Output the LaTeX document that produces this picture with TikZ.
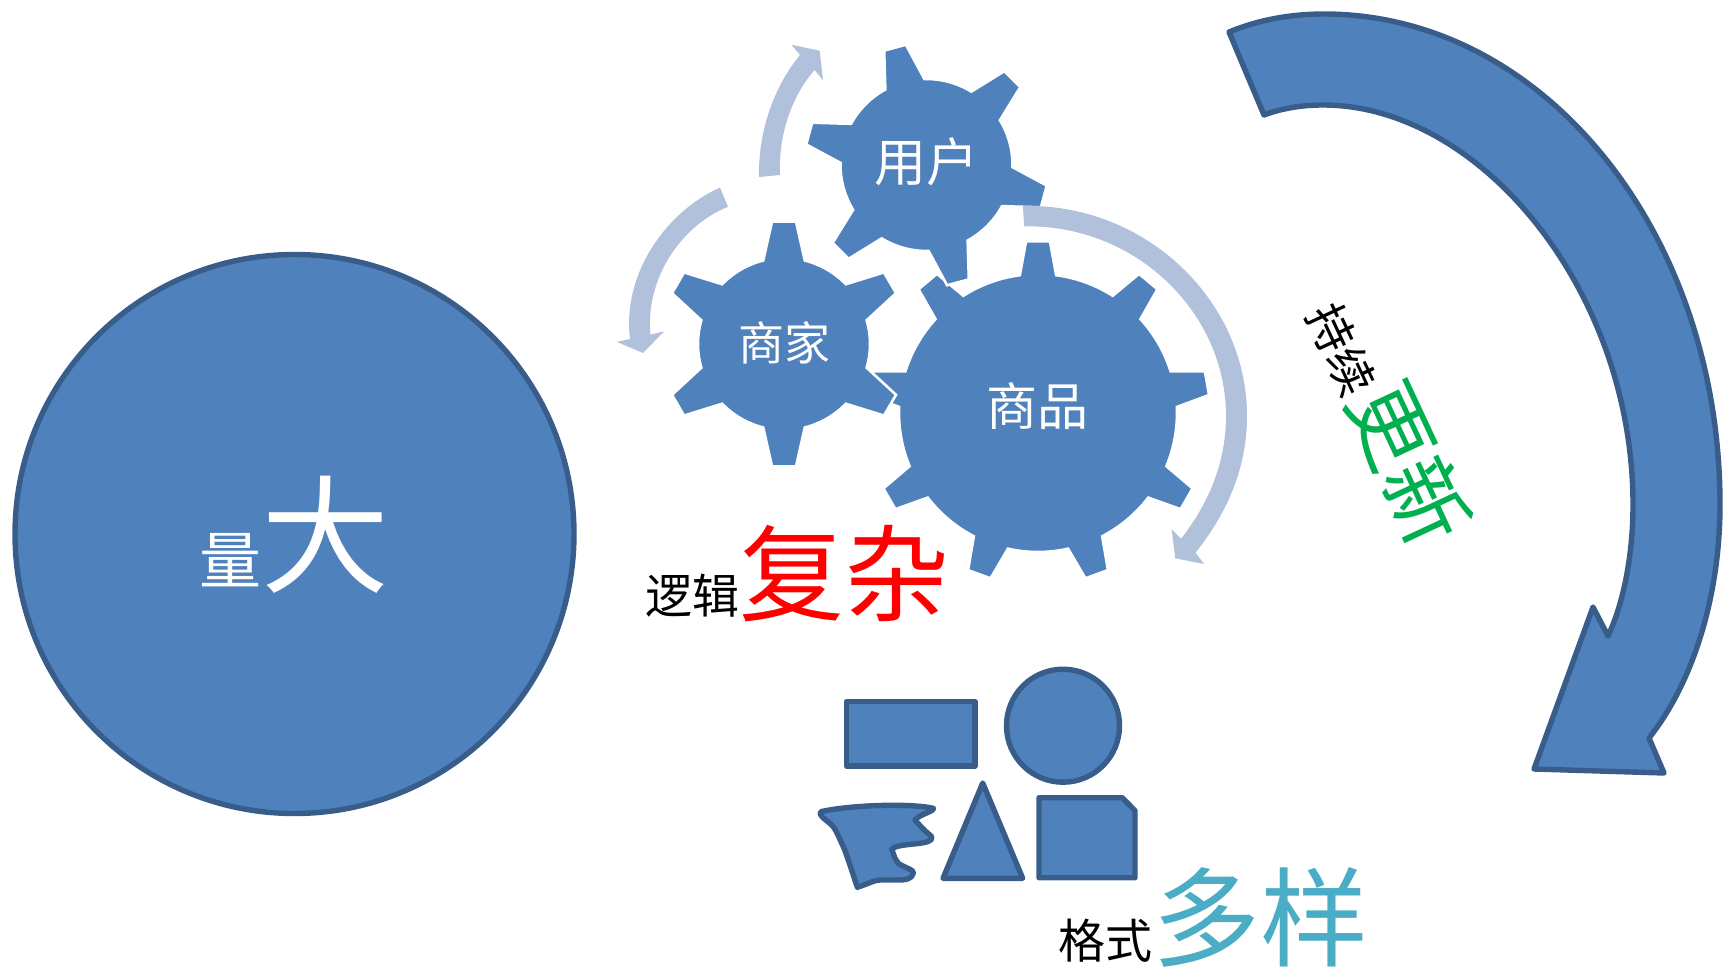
\documentclass[tikz,border=0pt]{standalone}
\usepackage{fontspec}
\usepackage{xcolor}
\setmainfont{Noto Sans CJK SC}
\definecolor{shapefill}{HTML}{4F81BD}
\definecolor{shapeline}{HTML}{385D8A}
\definecolor{arrowlight}{HTML}{B2C1DB}
\definecolor{moreteal}{HTML}{4BACC6}
\definecolor{newgreen}{HTML}{00B050}
\def\sz#1{\fontsize{#1}{#1}\selectfont}
% body radius, tip radius, half width at base, half width at tip, step, tooth angles
\def\gearpath#1#2#3#4#5#6{
  \foreach \a [evaluate=\a as \s using \a+#3, evaluate=\a as \e using \a+#5-#3] in {#6} {
    -- ({\a-#3}:#1) -- ({\a-#4}:#2) -- ({\a+#4}:#2) -- ({\a+#3}:#1)
    arc[start angle=\s, end angle=\e, radius=#1]
  } -- cycle}
\tikzset{
  solid shape/.style={fill=shapefill,draw=shapeline,line width=5.4pt,line join=round},
  gear/.style={fill=shapefill,draw=white,line width=2.6pt,line join=miter},
  turn/.style={fill=arrowlight},
  word/.style={inner sep=0pt,anchor=base}
}

\begin{document}
\begin{tikzpicture}[x=1pt,y=1pt,yscale=-1]

\useasboundingbox (0,0) rectangle (1723,969);

\def\bigcircle{(294.5,534) circle (279.5)}
\def\smallcircle{(1063,725.7) circle (56.5)}
\def\plainbox{(846.7,701.7) rectangle (975,766)}

% big arrow
\draw[solid shape] (1229,32) .. controls (1258,20) and (1290,14) .. (1324,14)
  .. controls (1544,14) and (1720,233) .. (1720,505)
  .. controls (1720,592) and (1695,680) .. (1649,738)
  -- (1664,773) -- (1534,769) -- (1593,607) -- (1608,636)
  .. controls (1625,600) and (1633,550) .. (1633,505)
  .. controls (1633,290) and (1480,105) .. (1323,105)
  .. controls (1300,105) and (1280,109) .. (1264,115) -- cycle;

% left circle
\draw[solid shape] \bigcircle;

% gears
\fill[gear,shift={(1038,413)}] (-97.5:139) \gearpath{139}{172}{7.5}{4}{40}{-90,-50,...,230};
\fill[gear,shift={(784,344)}] (76:86) \gearpath{86}{123}{14}{5.6}{60}{90,150,...,390};
\fill[gear,shift={(926.5,165)}] (1.4:86) \gearpath{86}{122}{13.6}{5.3}{60}{15,75,...,315};

% light arrows
\fill[turn] (759,177) .. controls (758,130) and (775,85) .. (800,55) -- (791.5,44.8)
  -- (819.7,50.7) -- (823,80.3) -- (814.6,70)
  .. controls (795,92) and (778,130) .. (780,175) -- cycle;
\fill[turn] (720,187.6) .. controls (665,212) and (622,275) .. (630,339) -- (616.8,341.9)
  -- (643,353) -- (664,331.5) -- (650.5,334.5)
  .. controls (645,280) and (680,226) .. (728,206.8) -- cycle;
\fill[turn] (1023,206) .. controls (1145,203) and (1247,300) .. (1247,416)
  .. controls (1247,467) and (1228,512) .. (1195.5,552.7) -- (1204,564) -- (1175.3,558.3)
  -- (1171.5,529) -- (1181,538.7)
  .. controls (1210,502) and (1226,460) .. (1226,416)
  .. controls (1226,312) and (1135,224) .. (1024,226.4) -- cycle;

% format shapes
\draw[solid shape] \plainbox;
\draw[solid shape] \smallcircle;
\draw[solid shape] (982.7,783) -- (1022.7,878.3) -- (943,878.3) -- cycle;
\draw[solid shape] (1039,797.7) -- (1122.3,797.7) -- (1135,810.7) -- (1135,877.7) -- (1039,877.7) -- cycle;
\draw[solid shape] (820.7,811.7) .. controls (850,805) and (910,803) .. (933.3,808.3)
  .. controls (935,811) and (918,815) .. (915,820) .. controls (922,828) .. (931.7,836.7)
  .. controls (935,846) and (900,842) .. (891.7,849) .. controls (895,858) and (895,860) .. (898.3,863.3)
  .. controls (905,868) and (915,870) .. (913.3,873.3) .. controls (912,879) and (905,880) .. (900,880)
  -- (880,880) .. controls (875,880) and (870,883) .. (857.3,887.3)
  .. controls (850,865) and (845,850) .. (843.3,846.7) .. controls (838,835) and (835,828) .. (831.7,825)
  .. controls (825,819) and (818,815) .. (820.7,811.7) -- cycle;

% labels
\node[word,text=white] (volume) at (294,583) {\sz{62}量\sz{128}大};
\node[word,text=white] (user) at (926,181) {\sz{52}用户};
\node[word,text=white] (seller) at (784,360) {\sz{46}商家};
\node[word,text=white] (goods) at (1037,425) {\sz{51}商品};
\node[word] (logic) at (797,613) {\sz{47}逻辑\textcolor{red}{\sz{105}复杂}};
\node[word] (format) at (1213,958) {\sz{47}格式\textcolor{moreteal}{\sz{108}多样}};
\node[inner sep=0pt,rotate=-65] (update) at (1390,420) {\sz{47}持续\textcolor{newgreen}{\sz{84}更新}};

\end{tikzpicture}
\end{document}
